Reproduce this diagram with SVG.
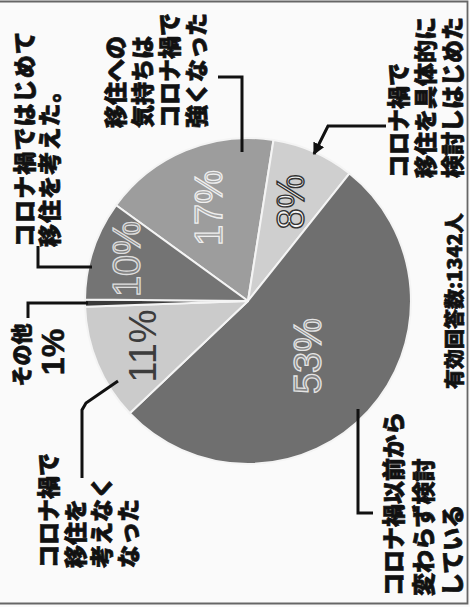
<svg xmlns="http://www.w3.org/2000/svg" width="470" height="607" viewBox="0 0 470 607">
<defs>
<style>
.lbl{font-family:"Noto Sans CJK JP","Noto Sans CJK SC",sans-serif;font-weight:900;font-size:23px;fill:#111;stroke:#111;stroke-width:0.7px}
.pct{font-family:"Liberation Sans",Arial,sans-serif;font-size:38px;text-anchor:middle}
.slice{stroke:#f4f4f4;stroke-width:2;stroke-linejoin:round}
.conn{fill:none;stroke:#111;stroke-width:3;stroke-linejoin:miter}
</style>
<marker id="arr" viewBox="0 0 10 10" refX="9" refY="5" markerWidth="4" markerHeight="4" orient="auto" markerUnits="strokeWidth">
<path d="M0,0 L10,5 L0,10 Z" fill="#111"/>
</marker>
</defs>
<rect x="0" y="0" width="470" height="607" fill="#fafafa"/>
<path d="M0,1.5 H467.5 V603.5 H0" fill="none" stroke="#666" stroke-width="1.8"/>

<g id="pie">
<path id="s17" class="slice" fill="#9d9d9d" d="M248,301 L116.13,205.19 A163,163 0 0 1 273.50,140.01 Z"/>
<path id="s8" class="slice" fill="#cfcfcf" d="M248,301 L273.50,140.01 A163,163 0 0 1 349.47,173.43 Z"/>
<path id="s53" class="slice" fill="#6f6f6f" d="M248,301 L349.47,173.43 A163,163 0 1 1 129.76,413.20 Z"/>
<path id="s11" class="slice" fill="#cbcbcb" d="M248,301 L129.76,413.20 A163,163 0 0 1 85.10,306.69 Z"/>
<path id="s1" class="slice" fill="#3a3a3a" d="M248,301 L85.10,306.69 A163,163 0 0 1 85.01,299.58 Z"/>
<path id="s10" class="slice" fill="#747474" d="M248,301 L85.01,299.58 A163,163 0 0 1 116.13,205.19 Z"/>
</g>

<g id="pct-labels">
<text class="pct" transform="translate(321,356) rotate(-90)" fill="#858585" stroke="#e4e4e4" stroke-width="1.3">53%</text>
<text class="pct" transform="translate(222,208) rotate(-90)" fill="#a6a6a6" stroke="#efefef" stroke-width="1.3">17%</text>
<text class="pct" transform="translate(140,259) rotate(-90)" fill="#838383" stroke="#dedede" stroke-width="1.3">10%</text>
<text class="pct" transform="translate(304,202) rotate(-90)" fill="#f4f4f4" stroke="#333" stroke-width="1.4">8%</text>
<text class="pct" transform="translate(156,346) rotate(-90)" fill="#3c3c3c">11%</text>
</g>

<g id="connectors">
<path class="conn" d="M38,246 V267 H92"/>
<path class="conn" d="M218,77 H242 V152"/>
<path class="conn" d="M386,126 H328 L314,154" marker-end="url(#arr)"/>
<path class="conn" d="M373,513 H358 V409" stroke-width="2.5"/>
<path class="conn" d="M82,478 V410 L86,403 L118,381"/>
<path class="conn" d="M28,318 V303 H88"/>
</g>

<g id="label-first-time" transform="translate(33,247) rotate(-90)">
<text class="lbl" x="0" y="0" style="letter-spacing:1.1px">コロナ禍ではじめて</text>
<text class="lbl" x="0" y="25" style="letter-spacing:1.1px">移住を考えた。</text>
</g>

<g id="label-stronger" transform="translate(124,128) rotate(-90)">
<text class="lbl" x="0" y="0">移住への</text>
<text class="lbl" x="0" y="27">気持ちは</text>
<text class="lbl" x="0" y="54">コロナ禍で</text>
<text class="lbl" x="0" y="81">強くなった</text>
</g>

<g id="label-concrete" transform="translate(407,178) rotate(-90)">
<text class="lbl" x="0" y="0">コロナ禍で</text>
<text class="lbl" x="0" y="27">移住を具体的に</text>
<text class="lbl" x="0" y="54">検討しはじめた</text>
</g>

<g id="label-responses" transform="translate(462,389) rotate(-90)">
<text class="lbl" x="0" y="0" style="font-size:20px">有効回答数:1342人</text>
</g>

<g id="label-before" transform="translate(402,596) rotate(-90)">
<text class="lbl" x="0" y="0">コロナ禍以前から</text>
<text class="lbl" x="0" y="29.5">変わらず検討</text>
<text class="lbl" x="0" y="59">している</text>
</g>

<g id="label-no-longer" transform="translate(57,568) rotate(-90)">
<text class="lbl" x="0" y="0">コロナ禍で</text>
<text class="lbl" x="0" y="26.7">移住を</text>
<text class="lbl" x="0" y="53.4">考えなく</text>
<text class="lbl" x="0" y="80">なった</text>
</g>

<g id="label-other" transform="translate(29,355) rotate(-90)">
<text class="lbl" x="0" y="0" text-anchor="middle" style="font-size:21px">その他</text>
<text x="3" y="35" text-anchor="middle" style="font-family:'Liberation Sans',Arial,sans-serif;font-weight:bold;font-size:32px;fill:#111;stroke:#111;stroke-width:0.6px">1%</text>
</g>
</svg>
